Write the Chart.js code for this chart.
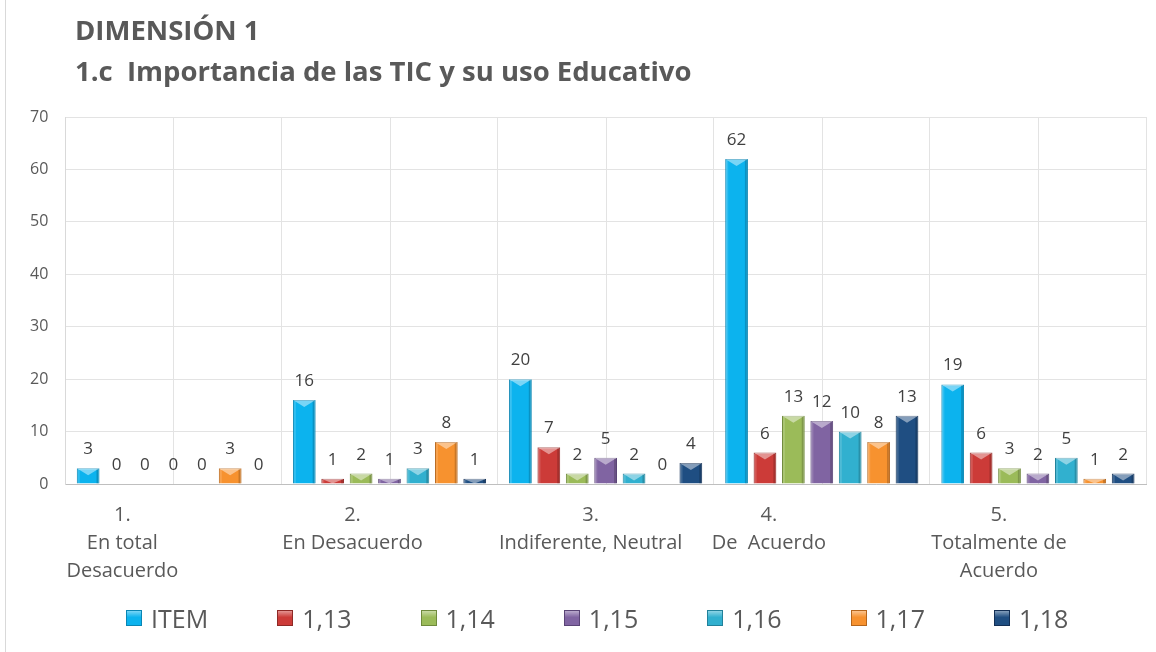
<!DOCTYPE html>
<html>
<head>
<meta charset="utf-8">
<script src="https://cdn.jsdelivr.net/npm/chart.js@4/dist/chart.umd.min.js"></script>
<style>
  html, body { margin: 0; padding: 0; background: #fff; }
  #wrap { position: relative; width: 1156px; height: 652px; overflow: hidden; }
  #edge { position: absolute; left: 5px; top: 0; width: 1px; height: 652px; background: #d9d9d9; }
  .ttl { position: absolute; left: 75px; font-family: 'Open Sans', sans-serif; font-weight: 700;
         color: #595959; font-size: 27.5px; white-space: pre; line-height: 38px; }
  #legend { position: absolute; left: 126px; top: 603px; display: flex; font-family: 'Open Sans', sans-serif;
            font-size: 25px; line-height: 30px; color: #595959; }
  #legend .it { margin-right: 69px; display: flex; align-items: center; }
  #legend .sw { width: 16px; height: 16px; margin-right: 9px; box-sizing: border-box; }
</style>
</head>
<body>
<div id="wrap">
  <div id="edge"></div>
  <canvas id="chart" width="1156" height="652"></canvas>
  <div class="ttl" style="top:11px">DIMENSIÓN 1</div>
  <div class="ttl" style="top:52px">1.c  Importancia de las TIC y su uso Educativo</div>
  <div id="legend"></div>
</div>
<script>
/* ===============================
   Data
================================ */
const categories = [
  ["1.", "En total", "Desacuerdo"],
  ["2.", "En Desacuerdo"],
  ["3.", "Indiferente, Neutral"],
  ["4.", "De  Acuerdo"],
  ["5.", "Totalmente de", "Acuerdo"],
];
const seriesNames = ["ITEM", "1,13", "1,14", "1,15", "1,16", "1,17", "1,18"];
const item = [3, 16, 20, 62, 19];
const s113 = [0, 1, 7, 6, 6];
const s114 = [0, 2, 2, 13, 3];
const s115 = [0, 1, 5, 12, 2];
const s116 = [0, 3, 2, 10, 5];
const s117 = [3, 8, 0, 8, 1];
const s118 = [0, 1, 4, 13, 2];
const yTicks = [0, 10, 20, 30, 40, 50, 60, 70];

const seriesValues = [item, s113, s114, s115, s116, s117, s118];
const colors = ["#0cb3ee", "#cc3b38", "#9bbb59", "#8064a2", "#31b0cf", "#f7922f", "#1f4e82"];
const borders = ["#0a86b4", "#8e2926", "#6f8a3c", "#5a4476", "#22819a", "#b5661c", "#132f55"];

// x label shift (labels in the original are not centred on their groups)
const labelShift = [-51, -37, -15, -53, -39];

/* ===============================
   Plugins
================================ */
const centerLines = {
  id: "centerLines",
  beforeDatasetsDraw(chart) {
    const { ctx, chartArea, scales } = chart;
    ctx.save();
    ctx.strokeStyle = "#e3e3e3";
    ctx.lineWidth = 1;
    categories.forEach((c, i) => {
      const x = Math.round(scales.x.getPixelForValue(i)) + 0.5;
      ctx.beginPath();
      ctx.moveTo(x, chartArea.top);
      ctx.lineTo(x, chartArea.bottom);
      ctx.stroke();
    });
    ctx.restore();
  },
};

const bevel = {
  id: "bevel",
  afterDatasetsDraw(chart) {
    const ctx = chart.ctx;
    ctx.save();
    chart.data.datasets.forEach((ds, di) => {
      const meta = chart.getDatasetMeta(di);
      meta.data.forEach((bar) => {
        const { x, y, base, width } = bar.getProps(["x", "y", "base", "width"], true);
        const h = base - y;
        if (h <= 0.5) return;
        const l = x - width / 2, r = x + width / 2;
        const b = Math.min(7, h);
        // light top chevron
        ctx.fillStyle = "rgba(255,255,255,0.45)";
        ctx.beginPath();
        ctx.moveTo(l, y);
        ctx.lineTo(r, y);
        ctx.lineTo(x, y + b);
        ctx.closePath();
        ctx.fill();
        // darker right side
        ctx.fillStyle = "rgba(0,0,0,0.18)";
        ctx.fillRect(r - 3, y + 1, 2, h - 1);
        // lighter left side
        ctx.fillStyle = "rgba(255,255,255,0.15)";
        ctx.fillRect(l + 1, y + 1, 2, h - 1);
      });
    });
    ctx.restore();
  },
};

const valueLabels = {
  id: "valueLabels",
  afterDatasetsDraw(chart) {
    const ctx = chart.ctx;
    ctx.save();
    ctx.font = "17px 'Open Sans', sans-serif";
    ctx.fillStyle = "#404040";
    ctx.textAlign = "center";
    ctx.textBaseline = "alphabetic";
    chart.data.datasets.forEach((ds, di) => {
      const meta = chart.getDatasetMeta(di);
      meta.data.forEach((bar, i) => {
        ctx.fillText(String(ds.data[i]), bar.x, bar.y - 14);
      });
    });
    ctx.restore();
  },
};

const xLabels = {
  id: "xLabels",
  afterDraw(chart) {
    const { ctx, chartArea, scales } = chart;
    ctx.save();
    ctx.font = "20px 'Open Sans', sans-serif";
    ctx.fillStyle = "#595959";
    ctx.textAlign = "center";
    ctx.textBaseline = "middle";
    categories.forEach((lines, i) => {
      const x = scales.x.getPixelForValue(i) + labelShift[i];
      lines.forEach((t, k) => {
        ctx.fillText(t, x, chartArea.bottom + 31 + k * 28);
      });
    });
    ctx.restore();
  },
};

/* ===============================
   Chart
================================ */
const datasets = seriesNames.map((name, i) => ({
  label: name,
  data: seriesValues[i],
  backgroundColor: colors[i],
  borderColor: borders[i],
  borderWidth: 1,
  categoryPercentage: 0.92,
  barPercentage: 0.8,
}));

new Chart(document.getElementById("chart"), {
  type: "bar",
  data: {
    labels: categories.map((c) => c.join(" ")),
    datasets: datasets,
  },
  options: {
    responsive: false,
    animation: false,
    layout: { padding: { top: 117, left: 13, right: 10, bottom: 168 } },
    plugins: {
      legend: { display: false },
      tooltip: { enabled: false },
    },
    scales: {
      x: {
        ticks: { display: false },
        grid: { color: "#e3e3e3", drawTicks: false, offset: true },
        border: { color: "#bfbfbf" },
      },
      y: {
        min: 0,
        max: 70,
        afterBuildTicks: (axis) => { axis.ticks = yTicks.map((v) => ({ value: v })); },
        ticks: {
          padding: 17,
          color: "#595959",
          font: { family: "'Open Sans', sans-serif", size: 16 },
        },
        grid: { color: "#e3e3e3", drawTicks: false },
        border: { color: "#d9d9d9" },
      },
    },
  },
  plugins: [centerLines, bevel, valueLabels, xLabels],
});

/* ===============================
   Legend
================================ */
const legendEl = document.getElementById("legend");
seriesNames.forEach((name, i) => {
  const it = document.createElement("div");
  it.className = "it";
  const sw = document.createElement("span");
  sw.className = "sw";
  sw.style.background = "linear-gradient(to bottom, rgba(255,255,255,0.45), " + colors[i] + " 45%)";
  sw.style.backgroundColor = colors[i];
  sw.style.border = "1px solid " + borders[i];
  const tx = document.createElement("span");
  tx.textContent = name;
  it.appendChild(sw);
  it.appendChild(tx);
  legendEl.appendChild(it);
});
</script>
</body>
</html>
